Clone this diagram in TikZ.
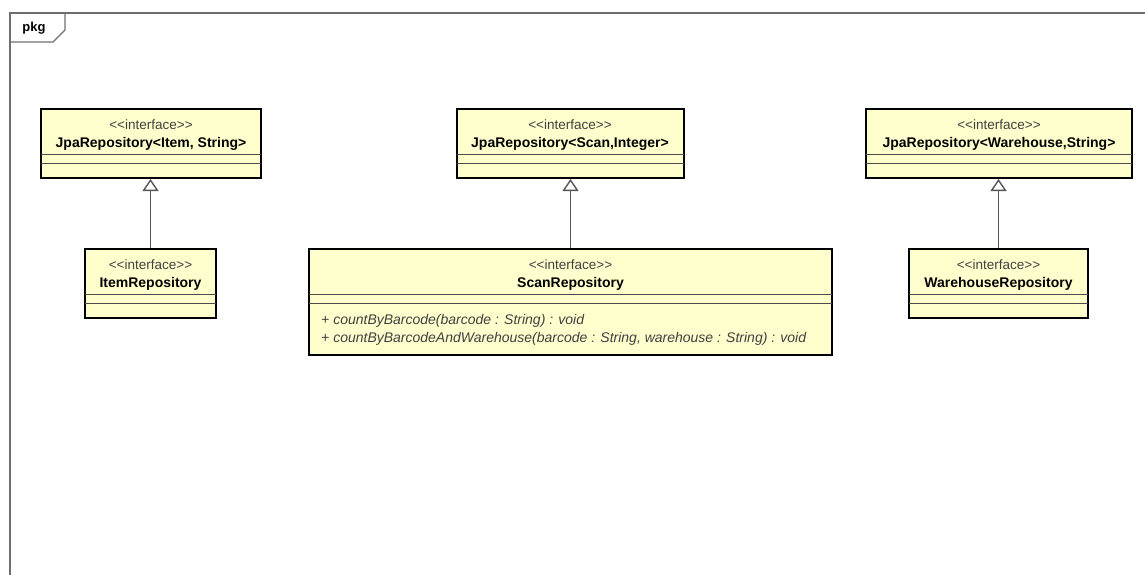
\documentclass[tikz,border=0pt]{standalone}
\usepackage{fontspec}
\setmainfont[Ligatures=NoCommon]{Liberation Sans}
\usetikzlibrary{arrows.meta,calc}
\definecolor{boxfill}{RGB}{255,255,206}
\definecolor{framegray}{RGB}{110,110,110}
\definecolor{linegray}{RGB}{85,85,85}
\newcommand{\stereotxt}{{<}{<}interface{>}{>}}
\begin{document}
\begin{tikzpicture}[x=1pt,y=-1pt,
 umlbox/.style={draw=black, line width=2pt, fill=boxfill, rectangle, inner sep=0pt},
 stereo/.style={font=\fontsize{13.5}{13.5}\selectfont, text=black!75, inner sep=0pt},
 cname/.style={font=\fontsize{14}{14}\selectfont\bfseries, inner sep=0pt},
 meth/.style={font=\fontsize{14}{14}\selectfont\itshape, text=black!75, inner sep=0pt, anchor=west},
 sepline/.style={draw=black!70, line width=1pt},
 realize/.style={draw=linegray, line width=1.4pt, -{Triangle[open,length=12pt,width=16pt]}},
]
\useasboundingbox (0,0) rectangle (1145,575);
% package frame
\draw[framegray, line width=1.2pt] (10,580) -- (10,13) -- (1150,13);
\draw[framegray, line width=1.2pt] (10,42) -- (53,42) -- (65,30) -- (65,13);
\node[font=\fontsize{13}{13}\selectfont\bfseries, inner sep=0pt] (pkg) at (34,28) {pkg};

% boxes
\node[umlbox, minimum width=220pt, minimum height=69pt] (jpaItem) at (151,143.5) {};
\node[umlbox, minimum width=131pt, minimum height=69pt] (itemRepo) at (150.5,283.5) {};
\node[umlbox, minimum width=227pt, minimum height=69pt] (jpaScan) at (570,143.5) {};
\node[umlbox, minimum width=523pt, minimum height=106pt] (scanRepo) at (570.5,302) {};
\node[umlbox, minimum width=266pt, minimum height=69pt] (jpaWh) at (999,143.5) {};
\node[umlbox, minimum width=179pt, minimum height=69pt] (whRepo) at (998.5,283.5) {};

% separators and texts
\foreach \b/\n in {jpaItem/{JpaRepository{<}Item, String{>}}, itemRepo/{ItemRepository}, jpaScan/{JpaRepository{<}Scan,Integer{>}}, scanRepo/{ScanRepository}, jpaWh/{JpaRepository{<}Warehouse,String{>}}, whRepo/{WarehouseRepository}}{
  \draw[sepline] ($(\b.north west)+(1,46)$) -- ($(\b.north east)+(-1,46)$);
  \draw[sepline] ($(\b.north west)+(1,55)$) -- ($(\b.north east)+(-1,55)$);
  \node[stereo] at ($(\b.north)+(0,16.5)$) {\stereotxt};
  \node[cname] at ($(\b.north)+(0,36)$) {\n};
}
\node[meth] (m1) at ($(scanRepo.north west)+(13,73)$) {+ countByBarcode(barcode : String) : void};
\node[meth] (m2) at ($(scanRepo.north west)+(13,91)$) {+ countByBarcodeAndWarehouse(barcode : String, warehouse : String) : void};

% realizations
\draw[realize] (itemRepo.north) -- (itemRepo.north |- jpaItem.south);
\draw[realize] (scanRepo.north) -- (scanRepo.north |- jpaScan.south);
\draw[realize] (whRepo.north) -- (whRepo.north |- jpaWh.south);
\end{tikzpicture}
\end{document}
